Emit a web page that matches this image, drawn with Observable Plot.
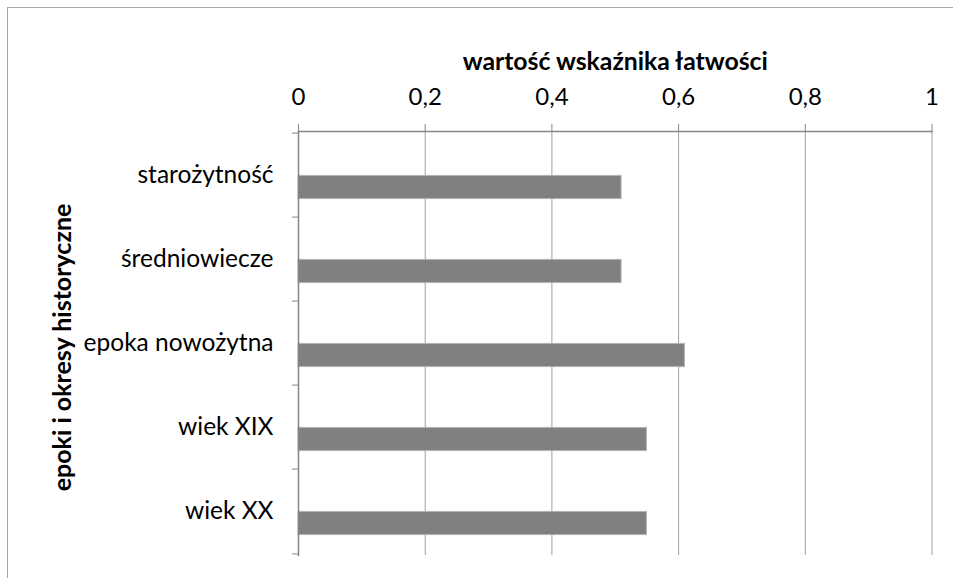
<!DOCTYPE html>
<html><head><meta charset="utf-8">
<script src="https://cdn.jsdelivr.net/npm/d3@7"></script>
<script src="https://cdn.jsdelivr.net/npm/@observablehq/plot@0.6"></script>
<style>
body{margin:0;background:#fff;}
#wrap{position:relative;width:953px;height:578px;overflow:hidden;background:#fff;}
#border{position:absolute;left:7px;top:7px;width:1000px;height:1000px;border-top:1.5px solid #a6a6a6;border-left:1.5px solid #a6a6a6;}
#chart{position:absolute;left:0;top:0;}
</style></head><body><div id="wrap"><div id="border"></div><div id="chart"></div></div>
<script>
const categories = ["starożytność", "średniowiecze", "epoka nowożytna", "wiek XIX", "wiek XX"];
const values = [0.51, 0.51, 0.61, 0.55, 0.55];
const xTicks = [0, 0.2, 0.4, 0.6, 0.8, 1];
const xTitle = "wartość wskaźnika łatwości";
const yTitle = "epoki i okresy historyczne";

const data = categories.map((c, i) => ({category: c, value: values[i]}));

const W = 953, H = 578, mT = 131, mB = 23, mL = 298, mR = 21.5;
const bw = (H - mT - mB) / categories.length;
const font = "Lato, sans-serif";
const axisColor = "#868686";
const gridColor = "#a0a0a0";

const plot = Plot.plot({
  width: W, height: H,
  marginTop: mT, marginBottom: mB, marginLeft: mL, marginRight: mR,
  style: {fontFamily: font, background: "transparent", overflow: "visible", color: "#000"},
  x: {domain: [0, 1]},
  y: {domain: categories, padding: 0},
  marks: [
    Plot.gridX(xTicks.slice(1), {stroke: gridColor, strokeOpacity: 1, strokeWidth: 1}),
    Plot.barX(data, {x: "value", y: "category", fill: "#808080", stroke: "#b4b4b4", strokeWidth: 1,
      insetTop: bw / 2, insetBottom: bw / 2 - 24}),
    Plot.frame({anchor: "top", stroke: axisColor, strokeWidth: 1.5}),
    Plot.frame({anchor: "left", stroke: axisColor, strokeWidth: 1.5}),
    Plot.axisX(xTicks, {anchor: "top", tickSize: 8, tickPadding: 19, fontSize: 24,
      tickFormat: d => String(d).replace(".", ","), label: null, stroke: axisColor, strokeOpacity: 1}),
    Plot.axisY(categories, {anchor: "left", tickSize: 0, tickPadding: 25, fontSize: 24.5, label: null}),
    Plot.axisY(categories, {anchor: "left", tickSize: 6, tickFormat: () => "", label: null,
      dy: -bw / 2, stroke: axisColor, strokeOpacity: 1}),
    Plot.axisY(categories.slice(-1), {anchor: "left", tickSize: 6, tickFormat: () => "", label: null,
      dy: bw / 2, stroke: axisColor, strokeOpacity: 1}),
    Plot.text([xTitle], {text: d => d, frameAnchor: "top", lineAnchor: "middle", textAnchor: "middle",
      dy: -69, fontWeight: "bold", fontSize: 24.8}),
    Plot.text([yTitle], {text: d => d, frameAnchor: "left", lineAnchor: "middle", textAnchor: "middle",
      dx: -236, dy: 4, rotate: -90, fontWeight: "bold", fontSize: 25})
  ]
});
document.getElementById("chart").appendChild(plot);
</script>
</body></html>
